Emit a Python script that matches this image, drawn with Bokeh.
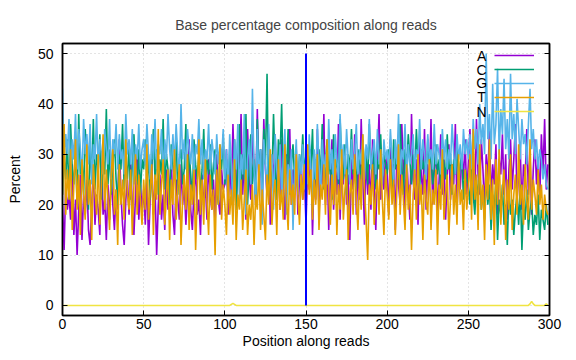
from bokeh.plotting import figure
from bokeh.models import (FixedTicker, LinearAxis, CustomJSTickFormatter, Legend,
                          LegendItem, Range1d, Label)
from bokeh.embed import file_html
from bokeh.resources import INLINE

# ---- data (percent per position) ----
A = [20, 11, 24, 19, 22, 17, 28, 14, 21, 10, 19, 26, 13, 22, 18, 25, 15, 12, 20, 27, 16, 22, 19, 14, 30, 18, 21, 13, 24, 17, 26, 20, 15, 23, 19, 33, 22, 16, 12, 21, 25, 18, 28, 20, 14, 22, 31, 17, 24, 19,
     23, 16, 26, 12, 21, 29, 18, 24, 10, 20, 26, 17, 22, 15, 27, 19, 23, 30, 18, 14, 25, 21, 17, 28, 20, 24, 16, 22, 33, 19, 15, 23, 27, 18, 21, 14, 26, 20, 24, 17, 29, 22, 19, 25, 16, 30, 21, 18, 27, 23,
     24, 31, 18, 29, 22, 36, 25, 19, 33, 27, 38, 22, 30, 17, 35, 26, 21, 34, 28, 20, 39, 24, 31, 18, 37, 27, 22, 32, 16, 29, 25, 34, 21, 28, 19, 33, 24, 17, 30, 26, 35, 20, 27, 23, 31, 18, 25, 29, 21, 26,
     16, 28, 23, 31, 14, 26, 21, 35, 18, 27, 24, 38, 20, 29, 15, 25, 33, 19, 27, 22, 36, 17, 28, 24, 31, 20, 26, 13, 29, 23, 34, 18, 27, 21, 37, 25, 16, 30, 22, 28, 19, 33, 24, 15, 29, 38, 21, 27, 23, 30,
     26, 18, 33, 22, 28, 15, 31, 24, 20, 36, 27, 19, 30, 23, 17, 38, 25, 21, 29, 16, 33, 26, 22, 35, 19, 28, 24, 37, 20, 27, 31, 18, 25, 34, 22, 29, 17, 26, 32, 21, 28, 24, 36, 19, 27, 23, 30, 25, 33, 22,
     28, 35, 24, 31, 20, 37, 26, 22, 33, 27, 19, 30, 25, 35, 21, 28, 24, 32, 18, 29, 26, 34, 22, 30, 17, 27, 33, 23, 29, 36, 21, 26, 31, 19, 28, 25, 35, 22, 30, 18, 27, 33, 24, 29, 21, 34, 26, 37, 23, 28]

C = [22, 30, 25, 33, 21, 36, 27, 24, 31, 20, 38, 26, 29, 22, 35, 28, 19, 32, 25, 37, 23, 30, 27, 34, 21, 29, 26, 39, 24, 31, 22, 28, 33, 25, 20, 30, 27, 36, 23, 29, 25, 32, 21, 28, 34, 26, 24, 31, 22, 29,
     27, 33, 24, 30, 21, 28, 35, 25, 31, 22, 29, 26, 37, 23, 30, 27, 20, 32, 28, 25, 34, 22, 29, 31, 24, 27, 36, 23, 30, 26, 21, 33, 28, 25, 30, 22, 27, 35, 24, 29, 26, 32, 23, 28, 31, 25, 20, 30, 27, 34,
     24, 29, 21, 31, 26, 23, 33, 19, 28, 36, 22, 30, 25, 38, 20, 27, 34, 24, 29, 21, 37, 26, 31, 23, 35, 28, 46, 22, 30, 25, 38, 27, 21, 33, 29, 40, 24, 31, 26, 35, 22, 28, 32, 25, 29, 23, 30, 27, 34, 26,
     30, 24, 32, 27, 35, 22, 29, 26, 31, 25, 36, 23, 28, 33, 26, 30, 21, 34, 27, 29, 24, 37, 28, 25, 32, 22, 30, 27, 35, 26, 29, 23, 31, 28, 25, 33, 27, 30, 24, 36, 28, 26, 31, 23, 29, 27, 34, 25, 30, 28,
     26, 31, 28, 23, 33, 27, 30, 25, 36, 28, 22, 31, 27, 34, 29, 24, 30, 26, 35, 28, 23, 31, 27, 29, 25, 33, 28, 30, 24, 27, 32, 26, 29, 23, 31, 28, 25, 34, 27, 30, 22, 29, 26, 32, 24, 28, 30, 21, 27, 25,
     24, 20, 27, 22, 18, 25, 21, 28, 19, 23, 17, 26, 20, 24, 15, 22, 19, 25, 13, 21, 18, 24, 16, 20, 12, 23, 18, 21, 14, 19, 22, 16, 24, 11, 20, 17, 23, 15, 19, 21, 14, 18, 16, 22, 13, 19, 17, 15, 20, 16]

G = [43, 28, 34, 30, 37, 26, 33, 29, 38, 27, 35, 31, 25, 37, 30, 34, 28, 36, 24, 32, 29, 38, 27, 33, 30, 26, 35, 31, 28, 37, 25, 33, 30, 36, 27, 34, 29, 31, 26, 38, 30, 33, 28, 35, 24, 32, 29, 36, 27, 31,
     33, 28, 36, 30, 25, 34, 29, 37, 27, 32, 30, 35, 26, 33, 29, 38, 31, 27, 34, 28, 36, 30, 25, 40, 29, 33, 27, 35, 31, 28, 34, 26, 32, 30, 37, 28, 33, 25, 31, 29, 36, 27, 33, 30, 26, 34, 28, 32, 29, 35,
     25, 31, 22, 34, 28, 19, 33, 27, 36, 21, 30, 26, 38, 18, 29, 33, 24, 43, 27, 20, 35, 25, 31, 16, 33, 28, 22, 36, 26, 30, 19, 34, 27, 24, 32, 21, 29, 35, 18, 28, 25, 31, 15, 27, 33, 22, 30, 26, 32, 23,
     29, 24, 34, 27, 19, 31, 25, 36, 28, 22, 33, 26, 30, 24, 37, 27, 31, 23, 34, 29, 25, 38, 28, 32, 26, 35, 29, 24, 33, 27, 30, 36, 26, 31, 28, 34, 25, 32, 29, 37, 27, 30, 33, 26, 35, 28, 31, 24, 33, 29,
     31, 27, 35, 29, 24, 33, 28, 38, 26, 31, 29, 36, 25, 32, 28, 30, 34, 26, 31, 29, 37, 27, 33, 30, 25, 34, 29, 31, 27, 36, 28, 32, 30, 26, 35, 29, 33, 27, 31, 28, 36, 30, 26, 34, 29, 32, 27, 35, 30, 33,
     29, 34, 27, 37, 31, 35, 28, 40, 32, 36, 30, 50, 33, 38, 29, 44, 32, 36, 47, 30, 39, 34, 45, 31, 37, 29, 46, 33, 38, 30, 41, 35, 29, 37, 32, 34, 28, 36, 43, 31, 35, 29, 33, 27, 31, 29, 25, 28, 24, 23]

T = [22, 36, 18, 27, 21, 31, 15, 24, 33, 19, 26, 14, 29, 22, 17, 32, 20, 25, 13, 28, 23, 18, 30, 16, 24, 34, 19, 27, 21, 15, 26, 31, 18, 23, 12, 28, 20, 25, 17, 33, 22, 19, 27, 14, 24, 30, 18, 26, 21, 16,
     25, 19, 32, 17, 23, 28, 14, 26, 21, 35, 18, 24, 29, 16, 22, 27, 13, 25, 20, 31, 17, 23, 28, 12, 21, 26, 19, 30, 15, 24, 20, 27, 11, 22, 33, 18, 25, 16, 29, 21, 14, 26, 19, 23, 10, 27, 20, 32, 17, 24,
     20, 14, 26, 18, 23, 16, 29, 13, 22, 19, 25, 15, 21, 27, 14, 20, 17, 24, 12, 22, 19, 28, 15, 23, 18, 13, 26, 20, 31, 16, 22, 25, 14, 29, 19, 23, 17, 32, 21, 15, 27, 20, 24, 18, 30, 22, 16, 26, 21, 28,
     19, 32, 22, 27, 17, 25, 20, 30, 15, 24, 21, 28, 18, 33, 22, 16, 26, 20, 29, 14, 24, 19, 31, 17, 23, 27, 13, 22, 25, 18, 30, 21, 15, 26, 19, 34, 23, 17, 9, 24, 20, 28, 16, 22, 25, 18, 31, 21, 14, 27,
     22, 17, 29, 20, 25, 14, 23, 32, 18, 26, 21, 15, 28, 19, 24, 11, 22, 27, 17, 30, 20, 24, 13, 26, 21, 18, 29, 15, 23, 20, 27, 12, 24, 19, 31, 17, 22, 26, 14, 21, 28, 18, 24, 16, 30, 20, 23, 15, 27, 19,
     23, 30, 17, 35, 21, 26, 15, 32, 19, 24, 13, 28, 21, 33, 17, 25, 12, 29, 20, 31, 16, 23, 27, 13, 25, 19, 30, 15, 22, 26, 18, 32, 20, 24, 16, 28, 21, 17, 33, 19, 25, 22, 18, 27, 20, 24, 17, 22, 19, 18]

N = [0, 0, 0, 0, 0, 0, 0, 0, 0, 0, 0, 0, 0, 0, 0, 0, 0, 0, 0, 0, 0, 0, 0, 0, 0, 0, 0, 0, 0, 0, 0, 0, 0, 0, 0, 0, 0, 0, 0, 0, 0, 0, 0, 0, 0, 0, 0, 0, 0, 0,
     0, 0, 0, 0, 0, 0, 0, 0, 0, 0, 0, 0, 0, 0, 0, 0, 0, 0, 0, 0, 0, 0, 0, 0, 0, 0, 0, 0, 0, 0, 0, 0, 0, 0, 0, 0, 0, 0, 0, 0, 0, 0, 0, 0, 0, 0, 0, 0, 0, 0,
     0, 0, 0, 0, 0.2, 0.4, 0.2, 0, 0, 0, 0, 0, 0, 0, 0, 0, 0, 0, 0, 0, 0, 0, 0, 0, 0, 0, 0, 0, 0, 0, 0, 0, 0, 0, 0, 0, 0, 0, 0, 0, 0, 0, 0, 0, 0, 0, 0, 0, 0, 0,
     0, 0, 0, 0, 0, 0, 0, 0, 0, 0, 0, 0, 0, 0, 0, 0, 0, 0, 0, 0, 0, 0, 0, 0, 0, 0, 0, 0, 0, 0, 0, 0, 0, 0, 0, 0, 0, 0, 0, 0, 0, 0, 0, 0, 0, 0, 0, 0, 0, 0,
     0, 0, 0, 0, 0, 0, 0, 0, 0, 0, 0, 0, 0, 0, 0, 0, 0, 0, 0, 0, 0, 0, 0, 0, 0, 0, 0, 0, 0, 0, 0, 0, 0, 0, 0, 0, 0, 0, 0, 0, 0, 0, 0, 0, 0, 0, 0, 0, 0, 0,
     0, 0, 0, 0, 0, 0, 0, 0, 0, 0, 0, 0, 0, 0, 0, 0, 0, 0, 0, 0, 0, 0, 0, 0, 0, 0, 0, 0, 0, 0, 0, 0, 0, 0, 0, 0, 0, 0, 0.3, 0.8, 0.3, 0, 0, 0, 0, 0, 0, 0, 0.3, 0]

series_names = ["A", "C", "G", "T", "N"]
series_colors = ["#9400D3", "#009E73", "#56B4E9", "#E69F00", "#F0E442"]
marker_x = [150, 150]
marker_y = [0, 50]
x_ticks = [0, 50, 100, 150, 200, 250, 300]
y_ticks = [0, 10, 20, 30, 40, 50]

FONT = "Liberation Sans"
FS = "14px"

p = figure(width=568, height=352, output_backend="svg", toolbar_location=None,
           x_range=Range1d(0, 300), y_range=Range1d(-2, 52),
           min_border_left=62, min_border_right=19, min_border_top=43, min_border_bottom=37,
           background_fill_color="white", border_fill_color="white")

p.title.text = "Base percentage composition along reads"
p.title.align = "center"
p.title.text_font = FONT
p.title.text_font_size = FS
p.title.text_font_style = "normal"
p.title.standoff = 21

renderers = []
for name, data, color in zip(series_names, [A, C, G, T, N], series_colors):
    xs = list(range(len(data)))
    r = p.line(xs, data, line_color=color, line_width=1.6)
    renderers.append(r)

p.line(marker_x, marker_y, line_color="#0000FF", line_width=2)

# axes
for ax in (p.xaxis[0], p.yaxis[0]):
    ax.axis_line_color = "black"
    ax.axis_line_width = 1.5
    ax.major_tick_in = 5
    ax.major_tick_out = 0
    ax.minor_tick_line_color = None
    ax.major_label_text_font = FONT
    ax.major_label_text_font_size = FS
    ax.major_label_text_color = "black"
    ax.axis_label_text_font = FONT
    ax.axis_label_text_font_size = FS
    ax.axis_label_text_font_style = "normal"
    ax.axis_label_text_color = "black"

p.xaxis.ticker = FixedTicker(ticks=x_ticks)
p.yaxis.ticker = FixedTicker(ticks=y_ticks)
p.xaxis.axis_label = "Position along reads"
p.yaxis.axis_label = "Percent"
p.xaxis.major_label_standoff = 3
p.xaxis.axis_label_standoff = 1
p.yaxis.major_label_standoff = 9
p.yaxis.axis_label_standoff = 12

blank = CustomJSTickFormatter(code="return ''")
top_ax = LinearAxis(ticker=FixedTicker(ticks=x_ticks), formatter=blank,
                    major_tick_in=5, major_tick_out=0, minor_tick_line_color=None,
                    axis_line_color="black", axis_line_width=1.5, major_label_standoff=0)
right_ax = LinearAxis(ticker=FixedTicker(ticks=y_ticks), formatter=blank,
                      major_tick_in=5, major_tick_out=0, minor_tick_line_color=None,
                      axis_line_color="black", axis_line_width=1.5, major_label_standoff=0)
p.add_layout(top_ax, "above")
p.add_layout(right_ax, "right")

p.xgrid.ticker = FixedTicker(ticks=x_ticks)
p.ygrid.ticker = FixedTicker(ticks=y_ticks)
for g in (p.xgrid[0], p.ygrid[0]):
    g.grid_line_color = "#c8c8c8"
    g.grid_line_dash = "1 3"
    g.grid_line_width = 1

p.outline_line_color = "black"
p.outline_line_width = 1.5

# legend: sample lines from Bokeh's legend, letters placed to their left
legend = Legend(items=[LegendItem(label=" ", renderers=[r]) for r in renderers],
                location=(432, 197), glyph_width=40, glyph_height=14, label_height=14,
                label_standoff=0, label_width=0, spacing=0, padding=0, margin=0,
                label_text_font=FONT, label_text_font_size="10px",
                background_fill_alpha=0, border_line_alpha=0)
p.add_layout(legend)

legend_label_x = 258.2
legend_label_y = [49.6, 46.8, 44.1, 41.3, 38.5]
for name, ly in zip(series_names, legend_label_y):
    p.add_layout(Label(x=legend_label_x, y=ly, text=name, text_align="center",
                       text_baseline="middle", text_font=FONT, text_font_size=FS,
                       text_color="black"))

open("out.html", "w").write(file_html(p, INLINE))
